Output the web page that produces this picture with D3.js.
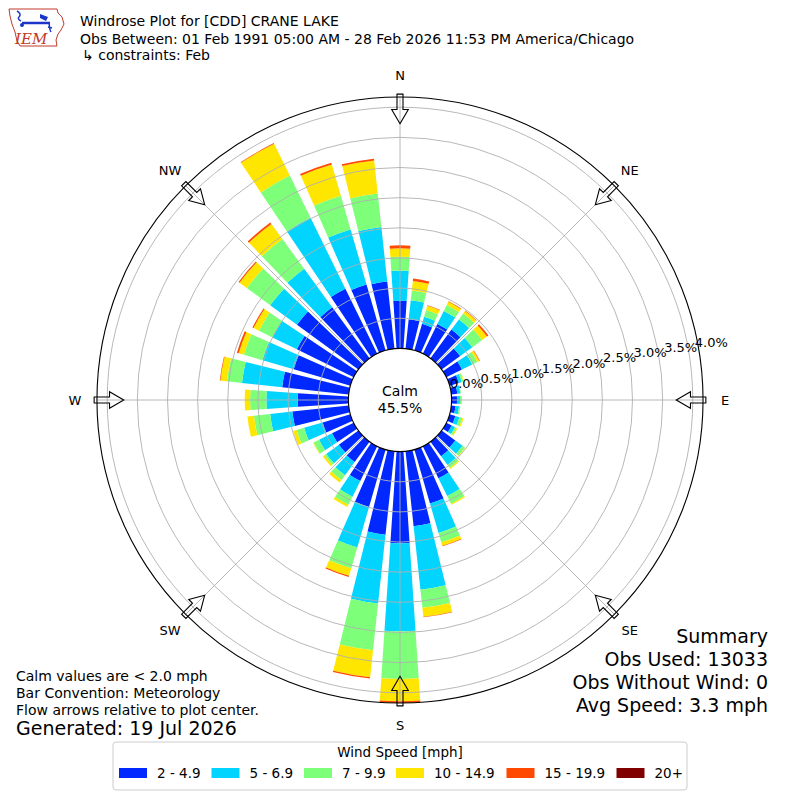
<!DOCTYPE html>
<html><head><meta charset="utf-8">
<script src="https://cdn.jsdelivr.net/npm/d3@7"></script>
<style>
body{margin:0;background:#fff}
text{font-family:"DejaVu Sans",sans-serif;fill:#000}
</style>
</head><body>
<svg id="chart" width="800" height="800"></svg>
<script>
// ---------------- DATA ----------------
const directions = [0,10,20,30,40,50,60,70,80,90,100,110,120,130,140,150,160,170,
                    180,190,200,210,220,230,240,250,260,270,280,290,300,310,320,330,340,350];
const speedBins = ["2 - 4.9","5 - 6.9","7 - 9.9","10 - 14.9","15 - 19.9","20+"];
// percent frequency per direction, one array per speed bin
const bin2to4_9 = [0.79,0.49,0.46,0.55,0.59,0.38,0.29,0.16,0.10,0.09,0.07,0.10,0.10,0.28,0.30,0.59,0.93,1.25,
                   1.52,1.39,0.99,0.64,0.42,0.40,0.40,0.48,0.94,0.84,1.11,0.98,1.05,1.26,1.05,1.20,1.14,1.12];
const bin5to6_9 = [0.50,0.32,0.12,0.24,0.21,0.25,0.19,0.05,0.05,0.05,0.06,0.07,0.06,0.15,0.18,0.33,0.51,1.06,
                   1.46,1.15,0.70,0.29,0.27,0.26,0.24,0.32,0.37,0.52,0.67,0.54,0.45,0.55,0.79,1.31,0.95,0.91];
const bin7to9_9 = [0.23,0.16,0.12,0.11,0.12,0.20,0.09,0.03,0.01,0.03,0.02,0.05,0.03,0.05,0.06,0.14,0.16,0.30,
                   0.79,0.78,0.36,0.15,0.10,0.04,0.10,0.13,0.27,0.27,0.25,0.32,0.25,0.48,0.61,0.78,0.58,0.56];
const bin10to14_9 = [0.14,0.16,0.07,0.06,0.05,0.10,0.04,0.01,0.00,0.00,0.00,0.02,0.02,0.01,0.02,0.02,0.06,0.15,
                   0.37,0.45,0.13,0.04,0.05,0.03,0.01,0.06,0.11,0.09,0.11,0.09,0.10,0.15,0.31,0.59,0.54,0.55];
const bin15to19_9 = [0.05,0.04,0.01,0.01,0.01,0.03,0.01,0.00,0.00,0.00,0.00,0.00,0.00,0.00,0.00,0.00,0.01,0.01,
                   0.03,0.02,0.02,0.00,0.00,0.00,0.00,0.00,0.00,0.00,0.01,0.03,0.02,0.02,0.03,0.01,0.03,0.03];
const bin20plus = [0,0,0,0,0,0,0,0,0,0,0,0,0,0,0,0,0,0,0,0,0,0,0,0,0,0,0,0,0,0,0,0,0,0,0,0];
const binColors = ["#0028ff","#00d4ff","#7dff7a","#ffe600","#ff4800","#800000"];
const ringValues = [0,0.5,1.0,1.5,2.0,2.5,3.0,3.5,4.0];
const ringLabels = ["0.0%","0.5%","1.0%","1.5%","2.0%","2.5%","3.0%","3.5%","4.0%"];
const compassAngles = [0,45,90,135,180,225,270,315];
const compassLabels = ["N","NE","E","SE","S","SW","W","NW"];
const calmPct = "45.5%";
const titleLines = ["Windrose Plot for [CDD] CRANE LAKE",
  "Obs Between: 01 Feb 1991 05:00 AM - 28 Feb 2026 11:53 PM America/Chicago",
  "\u21b3 constraints: Feb"];
const leftNotes = ["Calm values are < 2.0 mph","Bar Convention: Meteorology","Flow arrows relative to plot center."];
const generated = "Generated: 19 Jul 2026";
const summary = ["Summary","Obs Used: 13033","Obs Without Wind: 0","Avg Speed: 3.3 mph"];

// ---------------- DRAW ----------------
const series = [bin2to4_9,bin5to6_9,bin7to9_9,bin10to14_9,bin15to19_9,bin20plus];
const keys = speedBins;
const rows = directions.map((d,i)=>{const o={dir:d}; keys.forEach((k,j)=>o[k]=series[j][i]); return o;});
const stacked = d3.stack().keys(keys)(rows);
const totals = rows.map(r=>d3.sum(keys,k=>r[k]));
const maxT = d3.max(totals);

const svg = d3.select("#chart");
const cx=400, cy=400, R0=51.6, pxPerPct=60.3;
const r = d3.scaleLinear().domain([0,maxT]).range([R0, R0+maxT*pxPerPct]);
const Rmax = r(maxT);
const rad = d=>d*Math.PI/180;
const halfW = 3.85;

const g = svg.append("g").attr("transform",`translate(${cx},${cy})`);
const arc = d3.arc();

// bars
stacked.forEach((layer,j)=>{
  g.append("g").selectAll("path").data(layer).join("path")
    .attr("d",d=>arc({innerRadius:r(d[0]),outerRadius:r(d[1]),
        startAngle:rad(d.data.dir-halfW),endAngle:rad(d.data.dir+halfW)}))
    .attr("fill",binColors[j]);
});

// grid rings
g.append("g").selectAll("circle").data(ringValues.filter(v=>v>0)).join("circle")
  .attr("r",d=>r(d)).attr("fill","none").attr("stroke","#b0b0b0").attr("stroke-width",0.9);
// radial lines
g.append("g").selectAll("line").data(compassAngles).join("line")
  .attr("x1",d=>R0*Math.sin(rad(d))).attr("y1",d=>-R0*Math.cos(rad(d)))
  .attr("x2",d=>Rmax*Math.sin(rad(d))).attr("y2",d=>-Rmax*Math.cos(rad(d)))
  .attr("stroke","#b0b0b0").attr("stroke-width",0.9);
// outer circle
g.append("circle").attr("r",Rmax).attr("fill","none").attr("stroke","#000").attr("stroke-width",1.1);
// calm circle
g.append("circle").attr("r",R0).attr("fill","#fff").attr("stroke","#000").attr("stroke-width",1.1);
g.append("text").attr("x",0).attr("y",-4).attr("text-anchor","middle").attr("font-size",14).text("Calm");
g.append("text").attr("x",0).attr("y",13).attr("text-anchor","middle").attr("font-size",14).text(calmPct);

// arrows (pointing inward)
const tipR = Rmax-26.8, baseR = Rmax-12.6, tailR = Rmax+2.8, hw=8.3, sw=3;
const arrowPts = [[tipR,0],[baseR,hw],[baseR,sw],[tailR,sw],[tailR,-sw],[baseR,-sw],[baseR,-hw]];
g.append("g").selectAll("path").data(compassAngles).join("path")
  .attr("d",a=>{
    const th=rad(a);
    const pts=arrowPts.map(([u,v])=>[u*Math.sin(th)+v*Math.cos(th), -u*Math.cos(th)+v*Math.sin(th)]);
    return "M"+pts.map(p=>p[0].toFixed(2)+","+p[1].toFixed(2)).join("L")+"Z";
  })
  .attr("fill","none").attr("stroke","#000").attr("stroke-width",1.1).attr("stroke-linejoin","miter");

// compass labels
const labR = Rmax+22;
g.append("g").selectAll("text").data(compassAngles).join("text")
  .attr("x",a=>labR*Math.sin(rad(a))).attr("y",a=>-labR*Math.cos(rad(a)))
  .attr("dy","0.36em").attr("text-anchor","middle").attr("font-size",13)
  .text((a,i)=>compassLabels[i]);

// ring labels
g.append("g").selectAll("text").data(ringValues).join("text")
  .attr("x",v=>-2.4+1.015*r(v)).attr("y",v=>-3.2-0.17*r(v))
  .attr("font-size",13).text((v,i)=>ringLabels[i]);

// titles
svg.selectAll(".title").data(titleLines).join("text").attr("class","title")
  .attr("x",(d,i)=>i==2?82:80).attr("y",(d,i)=>[26,43.5,60][i]).attr("font-size",14).text(d=>d);

// logo
const logo = svg.append("g");
logo.append("path").attr("d","M9,9 L57,9 L58,13 L62,17 L64,24 L61,30 L58,34 L56,40 L57,46 L20,46 L17,41 L15,32 L12,24 L10,16 Z")
  .attr("fill","none").attr("stroke","#c0392b").attr("stroke-width",1);
logo.append("path").attr("d","M17,11 Q22,14 19,17 Q17,19 21,21").attr("fill","none").attr("stroke","#1a35c8").attr("stroke-width",1.5);
logo.append("line").attr("x1",22).attr("y1",23).attr("x2",50).attr("y2",23).attr("stroke","#1a35c8").attr("stroke-width",2.5);
logo.append("path").attr("d","M40,14 L48,17 L46,21 L40,18 Z").attr("fill","#1a35c8");
logo.append("circle").attr("cx",22).attr("cy",25).attr("r",2).attr("fill","#1a35c8");
logo.append("path").attr("d","M49,23 L50,30 M48,27 L52,28 M50,30 L51,32").attr("stroke","#1a35c8").attr("stroke-width",1.5).attr("fill","none");
logo.append("text").attr("x",15).attr("y",44).attr("font-size",15).attr("font-style","italic")
  .style("font-family","'DejaVu Serif',serif").style("fill","#c0392b").text("IEM");

// bottom-left notes
svg.selectAll(".note").data(leftNotes).join("text").attr("class","note")
  .attr("x",16).attr("y",(d,i)=>681+i*17).attr("font-size",14).text(d=>d);
svg.append("text").attr("x",16).attr("y",735).attr("font-size",19).text(generated);

// summary
svg.selectAll(".summ").data(summary).join("text").attr("class","summ")
  .attr("x",768).attr("y",(d,i)=>643+i*23).attr("text-anchor","end").attr("font-size",19).text(d=>d);

// legend
const lg = svg.append("g");
lg.append("rect").attr("x",113).attr("y",742).attr("width",574).attr("height",48).attr("rx",3)
  .attr("fill","#fff").attr("stroke","#cccccc").attr("stroke-width",1);
lg.append("text").attr("x",400).attr("y",757).attr("text-anchor","middle").attr("font-size",13.5).text("Wind Speed [mph]");
const legX = [119,211.5,304,396,506.5,616.5];
speedBins.forEach((b,i)=>{
  lg.append("rect").attr("x",legX[i]).attr("y",768).attr("width",28).attr("height",10).attr("fill",binColors[i]);
  lg.append("text").attr("x",legX[i]+38).attr("y",778).attr("font-size",13.5).text(b);
});
</script>
</body></html>
